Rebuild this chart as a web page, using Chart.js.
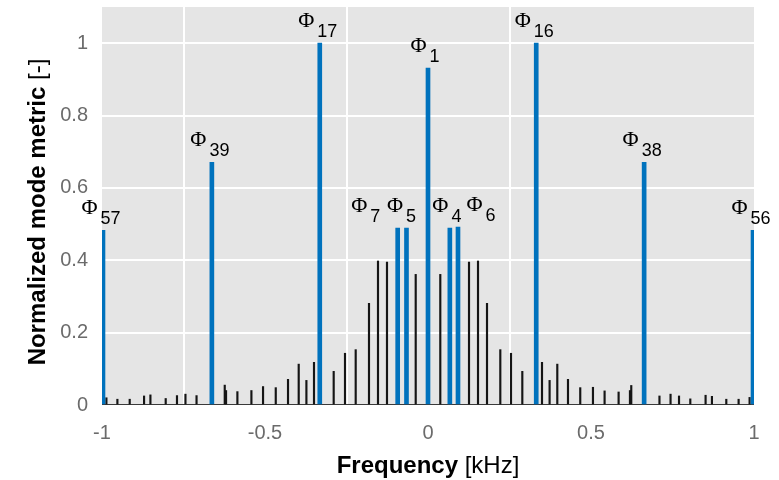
<!DOCTYPE html>
<html>
<head>
<meta charset="utf-8">
<title>Normalized mode metric</title>
<script src="https://cdn.jsdelivr.net/npm/chart.js@4.4.1/dist/chart.umd.min.js"></script>
<style>
    html, body { margin: 0; padding: 0; background: #fff; }
    canvas { display: block; }
</style>
</head>
<body>
<canvas id="modes" width="779" height="480"></canvas>
<script>
'use strict';

// labelled modes (blue stems)
var modeFreq  = [-0.997, -0.663, -0.332, -0.093, -0.066, 0, 0.067, 0.092, 0.332, 0.663, 0.997];
var modeValue = [0.483, 0.671, 1.0, 0.489, 0.489, 0.931, 0.489, 0.492, 1.0, 0.671, 0.483];
var modeIndex = ['57', '39', '17', '7', '5', '1', '4', '6', '16', '38', '56'];

// remaining components (black stems)
var otherFreq = [-0.9865, -0.9528, -0.915, -0.871, -0.8515, -0.8046, -0.770, -0.744, -0.710,
    -0.6235, -0.6195, -0.5847, -0.5417, -0.506, -0.467, -0.4294, -0.3966, -0.373, -0.3497,
    -0.2893, -0.2546, -0.2218, -0.181, -0.1534, -0.1258, -0.0377,
    0.0377, 0.1258, 0.1534, 0.181, 0.2218, 0.2546, 0.2893,
    0.3497, 0.373, 0.3966, 0.4294, 0.467, 0.506, 0.5417, 0.5847, 0.6195, 0.6235,
    0.710, 0.744, 0.770, 0.8046, 0.8515, 0.871, 0.915, 0.9528, 0.9865];
var otherValue = [0.020, 0.016, 0.016, 0.025, 0.028, 0.018, 0.026, 0.030, 0.026,
    0.055, 0.040, 0.037, 0.040, 0.051, 0.048, 0.071, 0.113, 0.068, 0.118,
    0.093, 0.143, 0.153, 0.281, 0.398, 0.395, 0.361,
    0.361, 0.395, 0.398, 0.281, 0.153, 0.143, 0.093,
    0.118, 0.068, 0.113, 0.071, 0.048, 0.049, 0.039, 0.036, 0.040, 0.054,
    0.025, 0.030, 0.025, 0.017, 0.027, 0.024, 0.016, 0.016, 0.021];

var xTicks = [-1, -0.5, 0, 0.5, 1];
var yTicks = [0, 0.2, 0.4, 0.6, 0.8, 1];

var SANS = "'Liberation Sans', Arial, Helvetica, sans-serif";
var SERIF = "'Liberation Serif', 'Times New Roman', serif";
var BLUE = '#0072bd';

// horizontal nudges (px) for the labels so they don't collide
var labelShift = [-2, -2, -2, -32, -5, -3, -3, 23, -2, -2, -2];

function pairs(xs, ys) {
    return xs.map(function (x, i) { return { x: x, y: ys[i] }; });
}

function tickText(v) {
    return String(Math.round(v * 10) / 10);
}

// gray panel + stem baseline
var panelPlugin = {
    id: 'panel',
    beforeDraw: function (chart) {
        var a = chart.chartArea, ctx = chart.ctx;
        ctx.save();
        ctx.fillStyle = '#e5e5e5';
        ctx.fillRect(a.left, a.top, a.right - a.left, a.bottom - a.top);
        ctx.restore();
    },
    beforeDatasetsDraw: function (chart) {
        var a = chart.chartArea, ctx = chart.ctx;
        var y0 = Math.round(chart.scales.y.getPixelForValue(0)) - 0.5;
        ctx.save();
        ctx.strokeStyle = '#3a3a3a';
        ctx.lineWidth = 1;
        ctx.beginPath();
        ctx.moveTo(a.left, y0);
        ctx.lineTo(a.right, y0);
        ctx.stroke();
        ctx.restore();
    }
};

// Phi_n labels over the blue stems, and the axis titles (mixed bold/regular)
var textPlugin = {
    id: 'texts',
    afterDraw: function (chart) {
        var ctx = chart.ctx, xs = chart.scales.x, ys = chart.scales.y;
        var a = chart.chartArea;
        ctx.save();
        ctx.fillStyle = '#000';
        ctx.textBaseline = 'alphabetic';
        ctx.textAlign = 'left';
        for (var i = 0; i < modeFreq.length; i++) {
            var px = xs.getPixelForValue(modeFreq[i]) + labelShift[i];
            var py = ys.getPixelForValue(modeValue[i]);
            ctx.font = '22px ' + SERIF;
            var wPhi = ctx.measureText('\u03A6').width;
            ctx.font = '18px ' + SANS;
            var wSub = ctx.measureText(modeIndex[i]).width;
            var gap = 3;
            var x0 = px - (wPhi + gap + wSub) / 2;
            ctx.font = '22px ' + SERIF;
            ctx.fillText('\u03A6', x0, py - 16);
            ctx.font = '18px ' + SANS;
            ctx.fillText(modeIndex[i], x0 + wPhi + gap, py - 6);
        }

        // x title
        var cx = (a.left + a.right) / 2;
        ctx.font = 'bold 24px ' + SANS;
        var w1 = ctx.measureText('Frequency').width;
        ctx.font = '24px ' + SANS;
        var w2 = ctx.measureText(' [kHz]').width;
        var sx = cx - (w1 + w2) / 2;
        ctx.font = 'bold 24px ' + SANS;
        ctx.fillText('Frequency', sx, 473);
        ctx.font = '24px ' + SANS;
        ctx.fillText(' [kHz]', sx + w1, 473);

        // y title
        var cy = (a.top + a.bottom) / 2 + 6;
        ctx.translate(45, cy);
        ctx.rotate(-Math.PI / 2);
        ctx.font = 'bold 24px ' + SANS;
        var w3 = ctx.measureText('Normalized mode metric').width;
        ctx.font = '24px ' + SANS;
        var w4 = ctx.measureText(' [-]').width;
        var sy = -(w3 + w4) / 2;
        ctx.font = 'bold 24px ' + SANS;
        ctx.fillText('Normalized mode metric', sy, 0);
        ctx.font = '24px ' + SANS;
        ctx.fillText(' [-]', sy + w3, 0);
        ctx.restore();
    }
};

var chart = new Chart(document.getElementById('modes').getContext('2d'), {
    type: 'bar',
    data: {
        datasets: [{
            label: 'other',
            data: pairs(otherFreq, otherValue),
            backgroundColor: '#151515',
            barThickness: 1.5,
            grouped: false,
            order: 2
        }, {
            label: 'modes',
            data: pairs(modeFreq, modeValue),
            backgroundColor: BLUE,
            barThickness: 4,
            grouped: false,
            order: 1
        }]
    },
    options: {
        responsive: false,
        animation: false,
        layout: { padding: { top: 7, right: 25, left: 0, bottom: 0 } },
        plugins: {
            legend: { display: false },
            tooltip: { enabled: false }
        },
        scales: {
            x: {
                type: 'linear',
                min: -1,
                max: 1,
                offset: false,
                afterBuildTicks: function (scale) {
                    scale.ticks = xTicks.map(function (v) { return { value: v }; });
                },
                afterFit: function (scale) {
                    scale.height = 75;
                    scale.paddingLeft = 0;
                    scale.paddingRight = 0;
                },
                border: { display: false },
                grid: {
                    drawTicks: false,
                    lineWidth: 2,
                    color: function (c) {
                        return (c.tick && Math.abs(c.tick.value) === 1) ? 'rgba(0,0,0,0)' : '#ffffff';
                    }
                },
                ticks: {
                    padding: 16,
                    color: '#6b6b6b',
                    font: { family: SANS, size: 20 },
                    maxRotation: 0,
                    callback: tickText
                }
            },
            y: {
                min: 0,
                max: 1.1,
                afterBuildTicks: function (scale) {
                    scale.ticks = yTicks.map(function (v) { return { value: v }; });
                },
                afterFit: function (scale) {
                    scale.width = 102;
                    scale.paddingTop = 0;
                    scale.paddingBottom = 0;
                },
                border: { display: false },
                grid: {
                    drawTicks: false,
                    lineWidth: 2,
                    color: '#ffffff'
                },
                ticks: {
                    padding: 14,
                    color: '#6b6b6b',
                    font: { family: SANS, size: 20 },
                    callback: tickText
                }
            }
        }
    },
    plugins: [panelPlugin, textPlugin]
});
</script>
</body>
</html>
